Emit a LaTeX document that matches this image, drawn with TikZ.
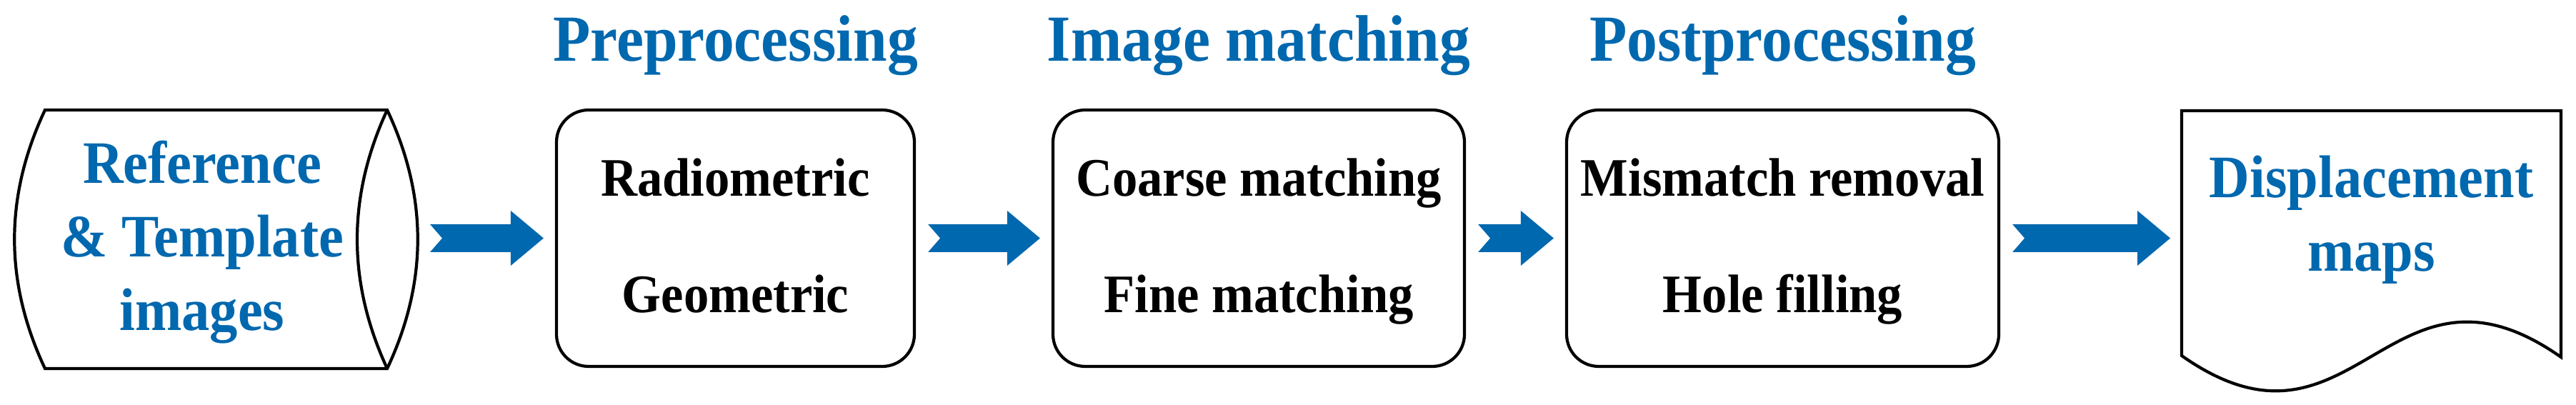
\documentclass[tikz,border=0pt]{standalone}
\usepackage{fontspec}
\setmainfont{Liberation Serif}[FakeStretch=0.93]
\usetikzlibrary{calc}
\definecolor{FlowBlue}{RGB}{0,104,174}

\tikzset{
  stagebox/.style={draw, line width=1.2pt, rounded corners=0.45cm, minimum height=3.59cm, inner sep=0pt},
  outline/.style={draw, line width=1.2pt, fill=white},
  titletext/.style={anchor=base, text=FlowBlue, font=\fontsize{26.2}{31}\selectfont\bfseries},
  boxtext/.style={anchor=base, font=\fontsize{21.6}{26}\selectfont\bfseries},
  datatext/.style={anchor=base, text=FlowBlue, font=\fontsize{24}{29}\selectfont\bfseries},
}

% block arrow with notched tail, between two points
\newcommand{\flowarrow}[2]{%
  \fill[FlowBlue] let \p1 = ($(#1)+(0.17,0)$), \p2 = ($(#2)+(-0.16,0)$) in
    (\x1,\y1+0.195cm) -- (\x2-0.46cm,\y1+0.195cm) -- (\x2-0.46cm,\y1+0.385cm) -- (\x2,\y1)
    -- (\x2-0.46cm,\y1-0.385cm) -- (\x2-0.46cm,\y1-0.195cm) -- (\x1,\y1-0.195cm)
    -- (\x1+0.17cm,\y1) -- cycle;}

\begin{document}
\begin{tikzpicture}
\useasboundingbox (0,0) rectangle (36.06,5.67);

% input images (stored data)
\draw[outline] (0.63,4.13) -- (5.42,4.13) .. controls (5.99,2.92) and (5.99,1.72) .. (5.42,0.51)
  -- (0.63,0.51) .. controls (0.06,1.72) and (0.06,2.92) .. (0.63,4.13) -- cycle;
\draw[line width=1.2pt] (5.42,4.13) .. controls (4.86,2.92) and (4.86,1.72) .. (5.42,0.51);
\coordinate (src) at (5.85,2.335);
\node[datatext] (src-a) at (2.83,3.10) {Reference};
\node[datatext] (src-b) at (2.83,2.07) {\& Template};
\node[datatext] (src-c) at (2.83,1.04) {images};

% processing stages
\node[stagebox, minimum width=5.01cm] (prep) at (10.295,2.335) {};
\node[stagebox, minimum width=5.76cm] (match) at (17.62,2.335) {};
\node[stagebox, minimum width=6.05cm] (post) at (24.955,2.335) {};

\node[titletext] (prep-t) at (10.295,4.81) {Preprocessing};
\node[titletext] (match-t) at (17.62,4.81) {Image matching};
\node[titletext] (post-t) at (24.955,4.81) {Postprocessing};

\node[boxtext] (prep-a) at (10.295,2.92) {Radiometric};
\node[boxtext] (prep-b) at (10.295,1.29) {Geometric};
\node[boxtext] (match-a) at (17.62,2.92) {Coarse matching};
\node[boxtext] (match-b) at (17.62,1.29) {Fine matching};
\node[boxtext] (post-a) at (24.955,2.92) {Mismatch removal};
\node[boxtext] (post-b) at (24.955,1.29) {Hole filling};

% output document
\draw[outline] (30.54,4.12) -- (35.85,4.12) -- (35.85,0.67)
  .. controls (33.43,2.37) and (32.96,-1.01) .. (30.54,0.69) -- cycle;
\coordinate (dmap) at (30.54,2.335);
\node[datatext] (dmap-a) at (33.195,2.90) {Displacement};
\node[datatext] (dmap-b) at (33.195,1.87) {maps};

% flow
\flowarrow{src}{prep.west}
\flowarrow{prep.east}{match.west}
\flowarrow{match.east}{post.west}
\flowarrow{post.east}{dmap}
\end{tikzpicture}
\end{document}
